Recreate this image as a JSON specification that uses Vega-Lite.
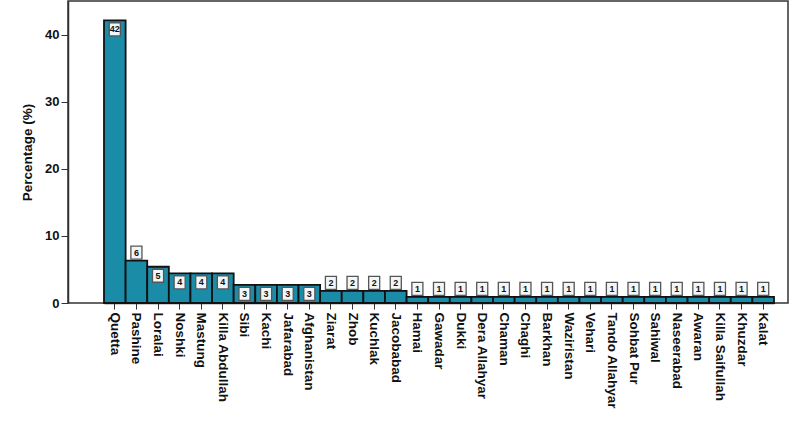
{
  "$schema": "https://vega.github.io/schema/vega-lite/v6.json",
  "width": 720,
  "height": 302,
  "autosize": {"type": "none"},
  "padding": {"left": 68, "top": 1, "right": 4, "bottom": 125},
  "background": "white",
  "config": {
    "view": {"stroke": "#333333", "strokeWidth": 1.5},
    "font": "Liberation Sans"
  },
  "data": {
    "values": [
      {"place": "Quetta", "pct": 42.1},
      {"place": "Pashine", "pct": 6.3},
      {"place": "Loralai", "pct": 5.4},
      {"place": "Noshki", "pct": 4.4},
      {"place": "Mastung", "pct": 4.4},
      {"place": "Killa Abdullah", "pct": 4.4},
      {"place": "Sibi", "pct": 2.7},
      {"place": "Kachi", "pct": 2.7},
      {"place": "Jafarabad", "pct": 2.7},
      {"place": "Afghanistan", "pct": 2.7},
      {"place": "Ziarat", "pct": 1.8},
      {"place": "Zhob", "pct": 1.8},
      {"place": "Kuchlak", "pct": 1.8},
      {"place": "Jacobabad", "pct": 1.8},
      {"place": "Hamai", "pct": 0.9},
      {"place": "Gawadar", "pct": 0.9},
      {"place": "Dukki", "pct": 0.9},
      {"place": "Dera Allahyar", "pct": 0.9},
      {"place": "Chaman", "pct": 0.9},
      {"place": "Chaghi", "pct": 0.9},
      {"place": "Barkhan", "pct": 0.9},
      {"place": "Waziristan", "pct": 0.9},
      {"place": "Vehari", "pct": 0.9},
      {"place": "Tando Allahyar", "pct": 0.9},
      {"place": "Sohbat Pur", "pct": 0.9},
      {"place": "Sahiwal", "pct": 0.9},
      {"place": "Naseerabad", "pct": 0.9},
      {"place": "Awaran", "pct": 0.9},
      {"place": "Killa Saifullah", "pct": 0.9},
      {"place": "Khuzdar", "pct": 0.9},
      {"place": "Kalat", "pct": 0.9}
    ]
  },
  "encoding": {
    "x": {
      "field": "place",
      "type": "nominal",
      "sort": null,
      "scale": {"paddingInner": 0, "paddingOuter": 0, "range": [36, 706]},
      "axis": {
        "title": null,
        "labelAngle": 90,
        "labelAlign": "left",
        "labelBaseline": "middle",
        "labelFont": "Liberation Sans",
        "labelFontWeight": "bold",
        "labelFontSize": 13.5,
        "labelColor": "#111111",
        "labelPadding": 3,
        "tickSize": 6,
        "tickColor": "#333333",
        "domainColor": "#333333",
        "domainWidth": 1.5,
        "labelOverlap": false
      }
    },
    "y": {
      "field": "pct",
      "type": "quantitative",
      "scale": {"domain": [0, 45], "nice": false},
      "axis": {
        "title": "Percentage (%)",
        "titleFont": "Liberation Sans",
        "titleFontWeight": "bold",
        "titleFontSize": 13.5,
        "titleColor": "#111111",
        "titlePadding": 10,
        "values": [0, 10, 20, 30, 40],
        "grid": false,
        "labelFont": "Liberation Sans",
        "labelFontWeight": "bold",
        "labelFontSize": 13,
        "labelColor": "#111111",
        "labelPadding": 2,
        "tickSize": 7,
        "tickColor": "#333333",
        "domainColor": "#333333",
        "domainWidth": 1.5
      }
    }
  },
  "layer": [
    {
      "mark": {"type": "bar", "fill": "#1a8ca8", "stroke": "#111111", "strokeWidth": 1.8}
    },
    {
      "transform": [{"filter": "datum.pct > 2.5 && datum.place != 'Pashine'"}],
      "mark": {"type": "point", "shape": "M-0.85,-1H0.85V1H-0.85Z", "size": 169, "filled": true, "fill": "#f3f6f8", "stroke": "#555555", "strokeWidth": 1.3, "opacity": 1, "yOffset": 9}
    },
    {
      "transform": [{"filter": "datum.pct > 2.5 && datum.place != 'Pashine'"}],
      "mark": {"type": "text", "fontSize": 9, "fontWeight": "bold", "color": "#111111", "dy": 9, "baseline": "middle"},
      "encoding": {"text": {"field": "pct", "type": "quantitative", "format": ".0f"}}
    },
    {
      "transform": [{"filter": "datum.pct <= 2.5 || datum.place == 'Pashine'"}],
      "mark": {"type": "point", "shape": "M-0.85,-1H0.85V1H-0.85Z", "size": 169, "filled": true, "fill": "#f3f6f8", "stroke": "#555555", "strokeWidth": 1.3, "opacity": 1, "yOffset": -8}
    },
    {
      "transform": [{"filter": "datum.pct <= 2.5 || datum.place == 'Pashine'"}],
      "mark": {"type": "text", "fontSize": 9, "fontWeight": "bold", "color": "#111111", "dy": -8, "baseline": "middle"},
      "encoding": {"text": {"field": "pct", "type": "quantitative", "format": ".0f"}}
    }
  ]
}
